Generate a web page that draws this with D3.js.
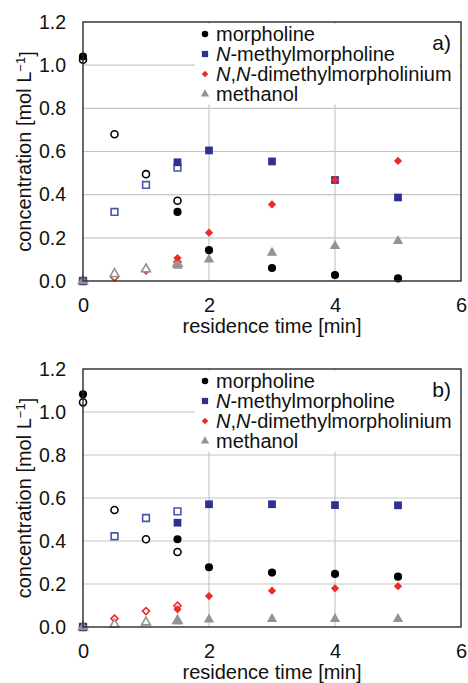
<!DOCTYPE html>
<html>
<head>
<meta charset="utf-8">
<script src="https://d3js.org/d3.v7.min.js"></script>
<style>
    body { margin: 0; background: #fff; }
    svg text { font-family: "Liberation Sans", Arial, sans-serif; fill: #111; }
</style>
</head>
<body>
<div id="chart"></div>
<script>
    // residence times [min]
    var timeFilled = [0, 1.5, 2, 3, 4, 5];
    var timeOpen = [0, 0.5, 1, 1.5];
    var xTicks = [0, 2, 4, 6];
    var yTicks = [0, 0.2, 0.4, 0.6, 0.8, 1.0, 1.2];

    var seriesNames = ["morpholine", "N-methylmorpholine", "N,N-dimethylmorpholinium", "methanol"];

    // panel a)
    var aMorphFilled = [1.04, 0.32, 0.143, 0.06, 0.028, 0.012];
    var aMorphOpen = [1.025, 0.68, 0.495, 0.372];
    var aNmmFilled = [0, 0.55, 0.605, 0.554, 0.468, 0.387];
    var aNmmOpen = [0, 0.32, 0.445, 0.525];
    var aDmmFilled = [0, 0.106, 0.224, 0.355, 0.468, 0.556];
    var aDmmOpen = [0, 0.017, 0.05, 0.088];
    var aMeohFilled = [0, 0.07, 0.10, 0.131, 0.162, 0.185];
    var aMeohOpen = [0, 0.033, 0.055, 0.08];

    // panel b)
    var bMorphFilled = [1.082, 0.408, 0.278, 0.253, 0.247, 0.234];
    var bMorphOpen = [1.045, 0.544, 0.408, 0.349];
    var bNmmFilled = [0, 0.485, 0.571, 0.571, 0.567, 0.566];
    var bNmmOpen = [0, 0.422, 0.507, 0.538];
    var bDmmFilled = [0, 0.082, 0.144, 0.169, 0.18, 0.19];
    var bDmmOpen = [0, 0.039, 0.074, 0.099];
    var bMeohFilled = [0, 0.025, 0.035, 0.037, 0.037, 0.037];
    var bMeohOpen = [0, 0.012, 0.022, 0.03];

    var colors = ["#000000", "#2e3192", "#ee2a24", "#939393"];
    var openColors = ["#000000", "#4a55a8", "#ee2a24", "#939393"];
    var shapes = [d3.symbolCircle, d3.symbolSquare, d3.symbolSquare, d3.symbolTriangle];
    var rotations = [0, 0, 45, 0];
    var sizes = [52, 60, 34, 46];

    var width = 468, height = 683;
    var svg = d3.select("#chart").append("svg")
        .attr("width", width)
        .attr("height", height);

    var xs = d3.scaleLinear().domain([0, 6]).range([83, 461]);

    function drawPanel(top, bottom, label, filled, open) {
        var ys = d3.scaleLinear().domain([0, 1.2]).range([bottom, top]);
        var g = svg.append("g");

        // grid
        g.selectAll(".hgrid").data(yTicks.slice(1, -1)).enter().append("line")
            .attr("x1", xs(0)).attr("x2", xs(6))
            .attr("y1", d => ys(d)).attr("y2", d => ys(d))
            .attr("stroke", "#c6c6c6").attr("stroke-width", 1.2);
        g.selectAll(".vgrid").data(xTicks.slice(1, -1)).enter().append("line")
            .attr("x1", d => xs(d)).attr("x2", d => xs(d))
            .attr("y1", top).attr("y2", bottom)
            .attr("stroke", "#c6c6c6").attr("stroke-width", 1.2);

        // legend background hides grid
        g.append("rect")
            .attr("x", 195).attr("y", top + 1.5)
            .attr("width", xs(6) - 196.5).attr("height", 81)
            .attr("fill", "#fff");

        // axes
        g.append("g")
            .attr("transform", "translate(" + xs(0) + ",0)")
            .call(d3.axisLeft(ys).tickValues(yTicks).tickFormat(d3.format(".1f")).tickSize(0).tickPadding(17))
            .call(a => a.select(".domain").remove())
            .selectAll("text").attr("font-size", 19.5).attr("font-family", "Liberation Sans, Arial");
        g.append("g")
            .attr("transform", "translate(0," + bottom + ")")
            .call(d3.axisBottom(xs).tickValues(xTicks).tickFormat(d3.format("d")).tickSize(0).tickPadding(17))
            .call(a => a.select(".domain").remove())
            .selectAll("text").attr("font-size", 20).attr("font-family", "Liberation Sans, Arial");

        g.append("text")
            .attr("x", (xs(0) + xs(6)) / 2)
            .attr("y", bottom + 52)
            .attr("text-anchor", "middle")
            .attr("font-size", 20)
            .text("residence time [min]");

        var yt = g.append("text")
            .attr("transform", "translate(31," + ((top + bottom) / 2) + ") rotate(-90)")
            .attr("text-anchor", "middle")
            .attr("font-size", 20);
        yt.append("tspan").text("concentration [mol L");
        yt.append("tspan").attr("dy", "-0.45em").attr("font-size", 13).text("\u22121");
        yt.append("tspan").attr("dy", "0.45em").text("]");

        // data: open markers (first set), filled markers (second set)
        open.forEach(function (vals, k) {
            g.selectAll(".o" + k).data(vals).enter().append("path")
                .attr("d", d3.symbol().type(shapes[k]).size(sizes[k] * 0.75))
                .attr("transform", (d, i) => "translate(" + xs(timeOpen[i]) + "," + ys(d) + ") rotate(" + rotations[k] + ")")
                .attr("fill", "#fff")
                .attr("stroke", openColors[k])
                .attr("stroke-width", 1.6);
        });
        filled.forEach(function (vals, k) {
            g.selectAll(".f" + k).data(vals).enter().append("path")
                .attr("d", d3.symbol().type(shapes[k]).size(sizes[k]))
                .attr("transform", (d, i) => "translate(" + xs(timeFilled[i]) + "," + ys(d) + ") rotate(" + rotations[k] + ")")
                .attr("fill", colors[k]);
        });

        // frame
        g.append("rect")
            .attr("x", xs(0)).attr("y", top)
            .attr("width", xs(6) - xs(0)).attr("height", bottom - top)
            .attr("fill", "none")
            .attr("stroke", "#2a2a2a").attr("stroke-width", 1.4);

        // legend
        seriesNames.forEach(function (name, k) {
            var ly = top + 12 + 20 * k;
            g.append("path")
                .attr("d", d3.symbol().type(shapes[k]).size(sizes[k] * 0.65))
                .attr("transform", "translate(205," + ly + ") rotate(" + rotations[k] + ")")
                .attr("fill", colors[k]);
            var t = g.append("text")
                .attr("x", 216).attr("y", ly + 7)
                .attr("font-size", 20);
            if (k == 1) {
                t.append("tspan").attr("font-style", "italic").text("N");
                t.append("tspan").text("-methylmorpholine");
            } else if (k == 2) {
                t.append("tspan").attr("font-style", "italic").text("N");
                t.append("tspan").text(",");
                t.append("tspan").attr("font-style", "italic").text("N");
                t.append("tspan").text("-dimethylmorpholinium");
            } else {
                t.text(name);
            }
        });

        g.append("text")
            .attr("x", 451).attr("y", top + 28)
            .attr("text-anchor", "end")
            .attr("font-size", 21)
            .text(label);
    }

    drawPanel(22, 281, "a)",
        [aMorphFilled, aNmmFilled, aDmmFilled, aMeohFilled],
        [aMorphOpen, aNmmOpen, aDmmOpen, aMeohOpen]);
    drawPanel(369, 627, "b)",
        [bMorphFilled, bNmmFilled, bDmmFilled, bMeohFilled],
        [bMorphOpen, bNmmOpen, bDmmOpen, bMeohOpen]);
</script>
</body>
</html>
